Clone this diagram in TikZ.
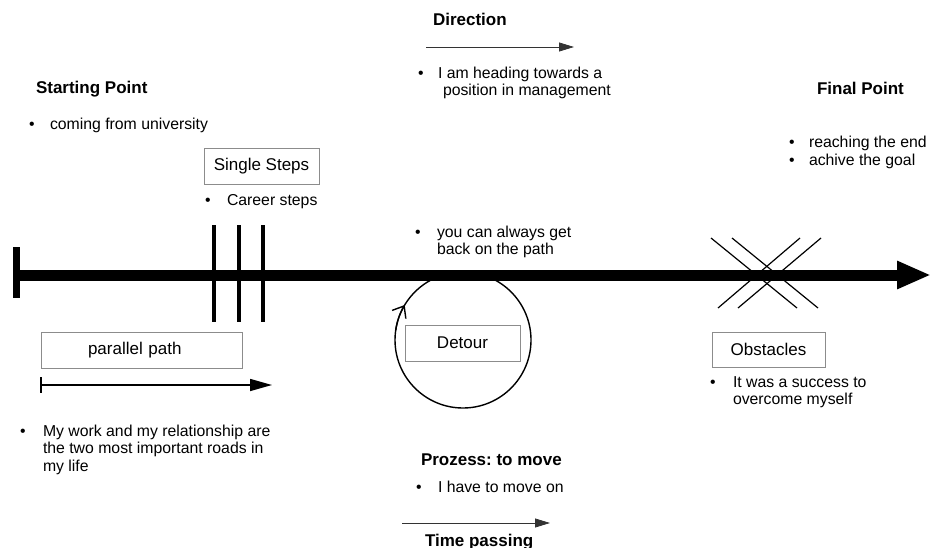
\documentclass[tikz,border=0pt]{standalone}
\usepackage{fontspec}
\setmainfont{Liberation Sans}
\usetikzlibrary{arrows.meta}
\definecolor{boxgray}{HTML}{8C8C8C}
\frenchspacing
% stacked lines whose baseline is the first line
\newcommand{\firstline}[1]{\vtop{\def\\{\egroup\hbox\bgroup}\hbox\bgroup#1\egroup}}
\begin{document}
\begin{tikzpicture}[x=1pt,y=1pt,
  every node/.style={inner sep=0pt, outer sep=0pt},
  body/.style={anchor=base west, font=\fontsize{15.8}{17.5}\selectfont},
  bullet/.style={anchor=base west, font=\fontsize{15.8}{17.5}\selectfont},
  heading/.style={anchor=base west, font=\fontsize{17}{20}\selectfont\bfseries},
  labelbox/.style={draw=boxgray, line width=0.9pt, font=\fontsize{17}{20}\selectfont,
    minimum height=36pt},
  thinarrow/.style={line width=0.8pt, draw=black!80, -{Triangle[length=15pt,width=9pt]}},
  stepbar/.style={line width=3.5pt},
  crossline/.style={line width=1.2pt}]
\useasboundingbox (0,0) rectangle (931,-548);

% main road
\coordinate (roadstart) at (16.5,-275);
\coordinate (roadend) at (931,-275);
\coordinate (bartop) at (16.5,-247);
\coordinate (barbot) at (16.5,-298);
\draw[line width=11pt, -{Triangle[length=34pt,width=26pt]}] (roadstart) -- (roadend);
\draw[line width=7pt] (bartop) -- (barbot);

% single steps on the road
\foreach \x/\n in {214/a,239/b,263/c}{
  \coordinate (st\n) at (\x,-225);
  \coordinate (sb\n) at (\x,-322);
  \draw[stepbar] (st\n) -- (sb\n);
}

% obstacles crossing the road
\coordinate (o1a) at (711,-238); \coordinate (o1b) at (797,-308);
\coordinate (o2a) at (732,-238); \coordinate (o2b) at (818,-308);
\coordinate (o3a) at (800,-238); \coordinate (o3b) at (718,-308);
\coordinate (o4a) at (821,-238); \coordinate (o4b) at (738,-308);
\draw[crossline] (o1a) -- (o1b);
\draw[crossline] (o2a) -- (o2b);
\draw[crossline] (o3a) -- (o3b);
\draw[crossline] (o4a) -- (o4b);

% direction
\node[heading] (direction) at (433,-26) {Direction};
\coordinate (dirA) at (426,-47);
\coordinate (dirB) at (574,-47);
\draw[thinarrow] (dirA) -- (dirB);
\node[bullet] (dirdot) at (418,-78.5) {•};
\node[body] (dirtext) at (438,-78.5) {\firstline{I am heading towards a\\\hspace*{5pt}position in management}};

% starting point
\node[heading] (start) at (36,-94) {Starting Point};
\node[bullet] (startdot) at (29,-130) {•};
\node[body] (starttext) at (50,-130) {coming from university};

% final point
\node[heading] (final) at (817,-95) {Final Point};
\node[bullet] (finaldot1) at (789,-148) {•};
\node[bullet] (finaldot2) at (789,-165.5) {•};
\node[body] (finaltext) at (809,-148) {\firstline{reaching the end\\achive the goal}};

% single steps
\node[labelbox, minimum width=115pt] (steps) at (261.5,-166) {Single Steps};
\node[bullet] (stepsdot) at (205,-205) {•};
\node[body] (stepstext) at (227,-205) {Career steps};

% back on the path
\node[bullet] (backdot) at (415,-237) {•};
\node[body] (backtext) at (437,-237) {\firstline{you can always get\\back on the path}};

% detour
\node[circle, draw, line width=1.4pt, minimum size=136pt] (loop) at (463,-340) {};
\draw[line width=1.4pt, -{Straight Barb[length=10pt,width=16pt]}]
  (loop.172) arc[start angle=172, end angle=149, radius=68pt];
\node[labelbox, minimum width=115pt] (detour) at (462.5,-343) {Detour};

% obstacles
\node[labelbox, minimum width=113pt, minimum height=35pt] (obst) at (768.5,-349.5) {Obstacles};
\node[bullet] (obstdot) at (710,-387) {•};
\node[body] (obsttext) at (733,-387) {\firstline{It was a success to\\overcome myself}};

% parallel path
\node[labelbox, minimum width=201pt, text width=107pt, align=left] (parallel) at (141.5,-350) {parallel path};
\coordinate (parA) at (41,-385);
\coordinate (parB) at (272,-385);
\coordinate (parTickA) at (41,-377);
\coordinate (parTickB) at (41,-393);
\draw[line width=1.5pt, -{Triangle[length=22pt,width=12pt]}] (parA) -- (parB);
\draw[line width=1.5pt] (parTickA) -- (parTickB);
\node[bullet] (pardot) at (20,-436) {•};
\node[body] (partext) at (43,-436) {\firstline{My work and my relationship are\\the two most important roads in\\my life}};

% process
\node[heading] (process) at (421,-465) {Prozess: to move};
\node[bullet] (procdot) at (416,-492) {•};
\node[body] (proctext) at (438,-492) {I have to move on};
\coordinate (timeA) at (402,-523);
\coordinate (timeB) at (550,-523);
\draw[thinarrow] (timeA) -- (timeB);
\node[heading] (time) at (425,-546) {Time passing};
\end{tikzpicture}
\end{document}
